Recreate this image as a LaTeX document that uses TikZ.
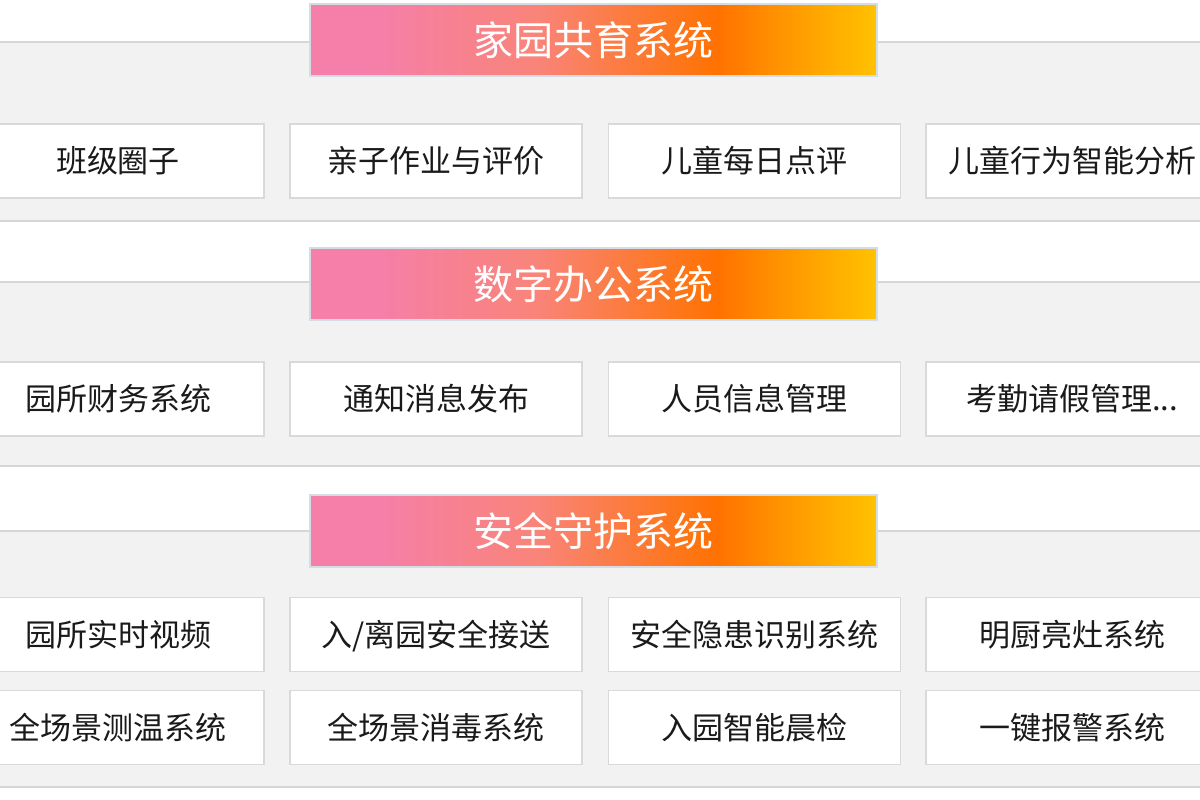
\documentclass[tikz,border=0pt]{standalone}
\usepackage{fontspec}
\setmainfont{Noto Sans CJK SC}
\definecolor{panelfill}{HTML}{F2F2F2}
\definecolor{panelline}{HTML}{D6D6D6}
\definecolor{boxline}{HTML}{D9D9D9}
\definecolor{hdrline}{HTML}{D5DCE4}
\definecolor{txt}{HTML}{1A1A1A}
\definecolor{hpA}{HTML}{F57FA8}
\definecolor{hpB}{HTML}{F98479}
\definecolor{hpC}{HTML}{FF7200}
\definecolor{hpD}{HTML}{FF9A00}
\definecolor{hpE}{HTML}{FFC200}
\pgfdeclarehorizontalshading{hdrshade}{100bp}{color(0bp)=(hpA); color(25bp)=(hpA); color(31bp)=(hpA); color(45bp)=(hpB); color(61bp)=(hpC); color(67.5bp)=(hpD); color(75bp)=(hpE); color(100bp)=(hpE)}
\tikzset{
  panel/.style={fill=panelfill, draw=panelline, line width=1.5pt},
  hdr/.style={shading=hdrshade, draw=hdrline, line width=1.5pt, minimum width=567pt, minimum height=72pt, inner sep=0pt, text=white, text height=35.2pt, text depth=4.8pt, font=\fontsize{40}{44}\selectfont},
  item/.style={fill=white, draw=boxline, line width=1.5pt, minimum width=292pt, minimum height=74pt, inner sep=0pt, text=txt, text height=27.3pt, text depth=3.7pt, font=\fontsize{31}{35}\selectfont},
}
\begin{document}
\begin{tikzpicture}[x=1pt,y=-1pt]
\useasboundingbox (0,0) rectangle (1200,800);
\clip (0,0) rectangle (1200,800);
\fill[white] (0,0) rectangle (1200,800);
% panels
\draw[panel] (-20,42) rectangle (1220,221);
\draw[panel] (-20,282) rectangle (1220,466);
\draw[panel] (-20,531) rectangle (1220,787);
% headers
\node[hdr] (h1) at (593.5,40) {家园共育系统};
\node[hdr] (h2) at (593.5,284) {数字办公系统};
\node[hdr] (h3) at (593.5,531) {安全守护系统};
% section 1
\node[item] (a1) at (118,161) {班级圈子};
\node[item] (a2) at (436,161) {亲子作业与评价};
\node[item] (a3) at (754.5,161) {儿童每日点评};
\node[item] (a4) at (1072,161) {儿童行为智能分析};
% section 2
\node[item] (b1) at (118,399) {园所财务系统};
\node[item] (b2) at (436,399) {通知消息发布};
\node[item] (b3) at (754.5,399) {人员信息管理};
\node[item] (b4) at (1072,399) {考勤请假管理...};
% section 3
\node[item] (c1) at (118,634.5) {园所实时视频};
\node[item] (c2) at (436,634.5) {入/离园安全接送};
\node[item] (c3) at (754.5,634.5) {安全隐患识别系统};
\node[item] (c4) at (1072,634.5) {明厨亮灶系统};
\node[item] (d1) at (118,727.5) {全场景测温系统};
\node[item] (d2) at (436,727.5) {全场景消毒系统};
\node[item] (d3) at (754.5,727.5) {入园智能晨检};
\node[item] (d4) at (1072,727.5) {一键报警系统};
\end{tikzpicture}
\end{document}
